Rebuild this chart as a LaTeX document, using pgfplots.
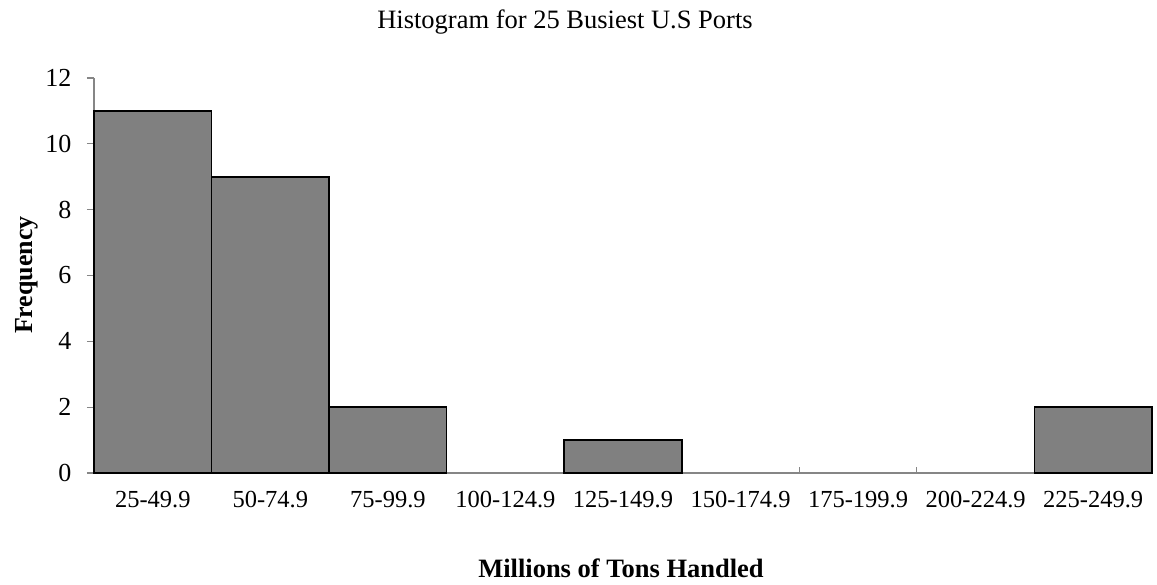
\documentclass[border=0pt]{standalone}
\usepackage{fontspec}
\setmainfont{Liberation Serif}
\usepackage{pgfplots}
\pgfplotsset{compat=1.18}
\definecolor{axgray}{HTML}{868686}
\definecolor{barfill}{HTML}{808080}
\begin{document}
\begin{tikzpicture}
\useasboundingbox (-94pt,-111pt) rectangle (1063pt,473pt);
\begin{axis}[
  at={(0pt,0pt)}, anchor=south west,
  scale only axis, width=1058pt, height=395pt,
  xmin=-0.5, xmax=8.5, ymin=0, ymax=12,
  axis x line*=bottom, axis y line*=left,
  axis line style={axgray, line width=1.4pt, -},
  xtick={0,...,8},
  xticklabels={25-49.9,50-74.9,75-99.9,100-124.9,125-149.9,150-174.9,175-199.9,200-224.9,225-249.9},
  major x tick style={draw=none},
  minor xtick={0.5,1.5,...,7.5},
  minor x tick style={axgray, line width=1.2pt},
  minor tick length=6pt,
  ytick={0,2,...,12},
  y tick style={axgray, line width=1.2pt},
  major tick length=7pt,
  tick align=outside,
  xtick align=inside,
  x tick label style={font=\fontsize{24.5}{28}\selectfont, yshift=-15pt},
  y tick label style={font=\fontsize{26}{28}\selectfont, xshift=-12pt},
  /pgf/number format/assume math mode=true,
  clip=false,
]
\addplot[ybar, bar width=1, fill=barfill, draw=black, line width=1.6pt,
  restrict y to domain=0.5:100]
  coordinates {(0,11) (1,9) (2,2) (3,0) (4,1) (5,0) (6,0) (7,0) (8,2)};
\end{axis}
\node[font=\fontsize{26.5}{28}\selectfont] at (471pt,451pt) {Histogram for 25 Busiest U.S Ports};
\node[font=\bfseries\fontsize{26.5}{28}\selectfont] at (527pt,-95pt) {Millions of Tons Handled};
\node[font=\bfseries\fontsize{26}{28}\selectfont, rotate=90] at (-67pt,198pt) {Frequency};
\end{tikzpicture}
\end{document}
